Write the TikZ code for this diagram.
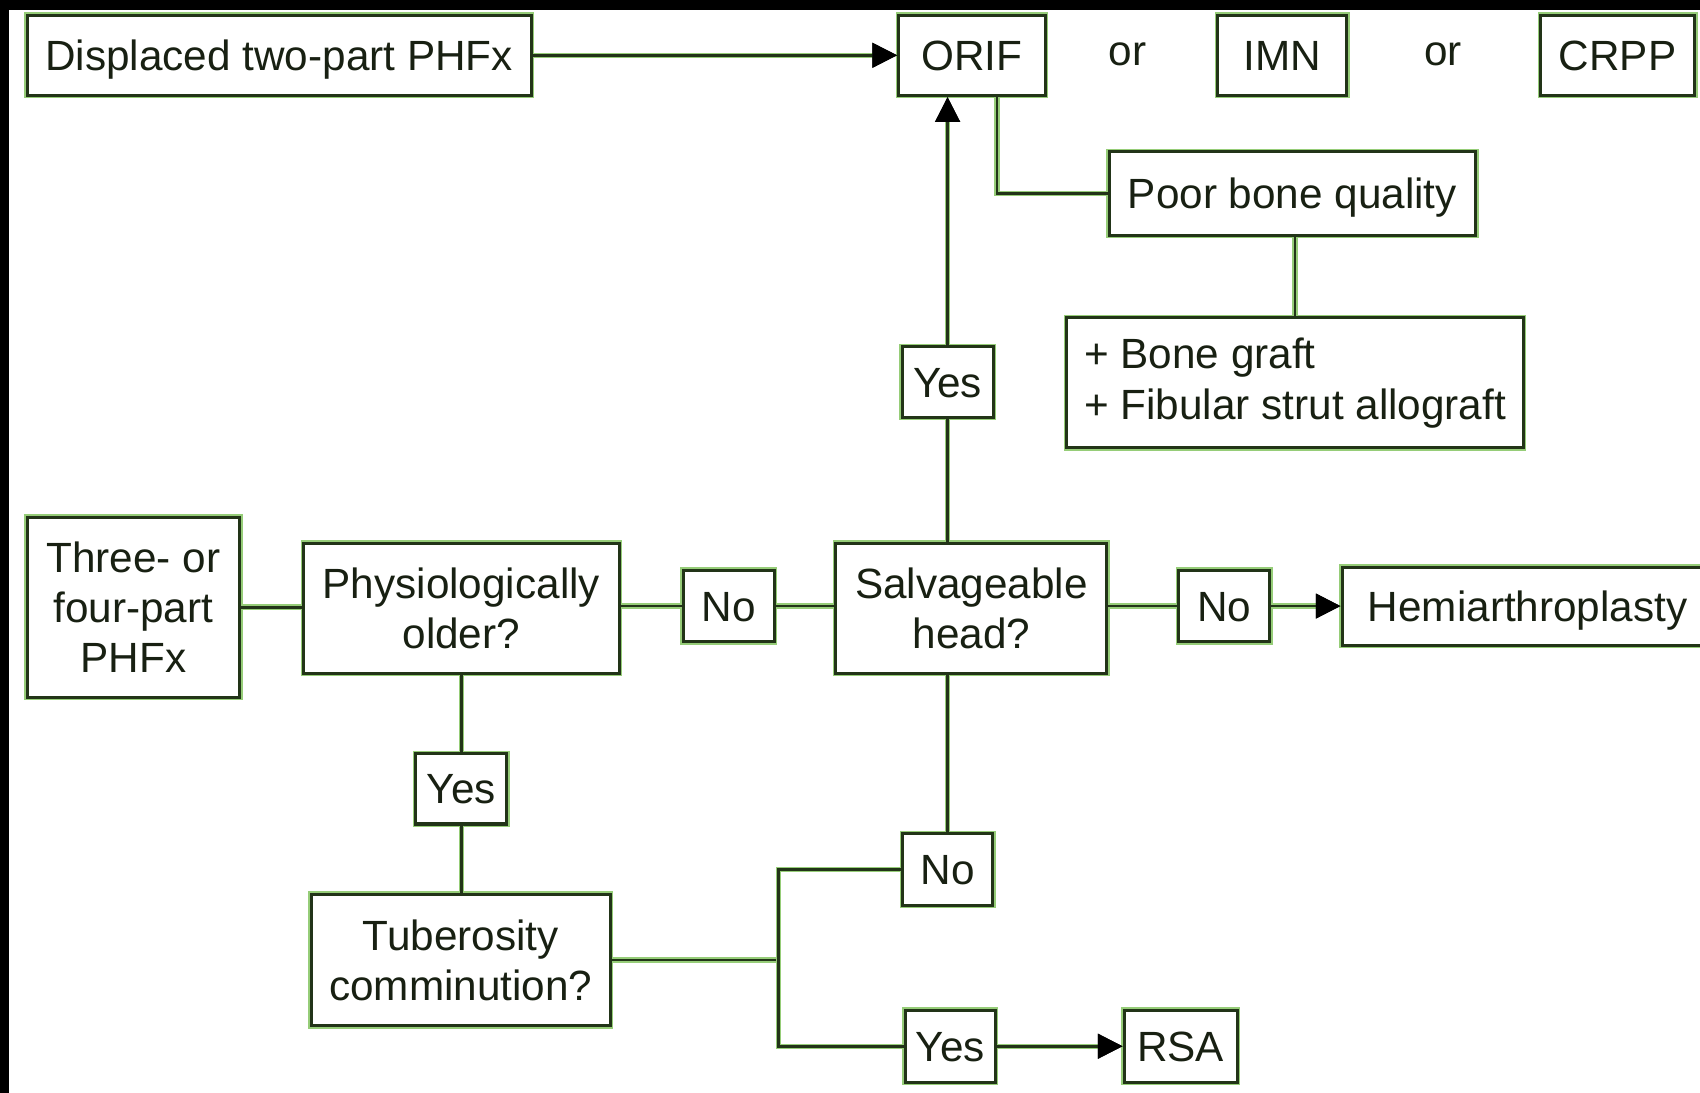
\documentclass[tikz,border=0pt]{standalone}
\usepackage{fontspec}
\setmainfont{Liberation Sans}
\usetikzlibrary{arrows.meta,calc}
\definecolor{lc}{RGB}{34,52,24}
\definecolor{halo}{RGB}{150,205,120}
\definecolor{tc}{RGB}{24,32,18}
\begin{document}
\begin{tikzpicture}[x=1pt,y=-1pt,
  box/.style={draw=lc, line width=2.8pt, preaction={draw=halo, line width=5.5pt},
    fill=white, inner sep=0pt, text=tc, font=\fontsize{39}{46}\selectfont, align=center},
  one/.style={box, text height=28pt, text depth=0pt},
  lbl/.style={inner sep=0pt, text=tc, font=\fontsize{39}{46}\selectfont, text height=20pt, text depth=0pt},
  conn/.style={draw=lc, line width=2.6pt, preaction={draw=halo, line width=5pt}},
  arr/.style={conn, -{Triangle[length=23pt,width=22pt,color=black]}}
]
\useasboundingbox (0,0) rectangle (1568,1008);
\fill[black] (0,0) rectangle (1568,1008);
\fill[white] (8,9) rectangle (1568,1008);

% top row
\node[one, minimum width=465pt, minimum height=74pt] (disp) at (257.5,51) {Displaced two-part PHFx};
\node[one, minimum width=135pt, minimum height=74pt] (orif) at (896.5,51) {ORIF};
\node[lbl] (or1) at (1040,50) {or};
\node[one, minimum width=119pt, minimum height=74pt] (imn) at (1182.5,51) {IMN};
\node[lbl] (or2) at (1331,50) {or};
\node[one, minimum width=142pt, minimum height=74pt] (crpp) at (1492,51) {CRPP};

\node[one, minimum width=338pt, minimum height=77pt] (poor) at (1192,178.5) {Poor bone quality};
\node[box, align=left, minimum width=421pt, minimum height=120pt] (graft) at (1194.5,353)
  {+ Bone graft\\[1pt]+ Fibular strut allograft};
\node[one, minimum width=84pt, minimum height=65pt] (yesU) at (874,352.5) {Yes};

% middle row
\node[box, minimum width=196pt, minimum height=166pt] (three) at (123,560) {Three- or\\four-part\\PHFx};
\node[box, minimum width=291pt, minimum height=120pt] (phys) at (425.5,561) {Physiologically\\older?};
\node[one, minimum width=84pt, minimum height=66pt] (noM) at (672,559) {No};
\node[box, minimum width=250pt, minimum height=120pt] (salv) at (896,561) {Salvageable\\head?};
\node[one, minimum width=84pt, minimum height=66pt] (noR) at (1129,559) {No};
\node[one, minimum width=342pt, minimum height=72pt] (hemi) at (1409,559) {Hemiarthroplasty};

% lower part
\node[one, minimum width=84pt, minimum height=65pt] (yesL) at (425.5,727.5) {Yes};
\node[box, minimum width=276pt, minimum height=121pt] (tub) at (425,885.5) {Tuberosity\\comminution?};
\node[one, minimum width=83pt, minimum height=66pt] (noL) at (874,802) {No};
\node[one, minimum width=83pt, minimum height=66pt] (yesB) at (876.5,965) {Yes};
\node[one, minimum width=104pt, minimum height=66pt] (rsa) at (1089,965) {RSA};
\coordinate (j) at (718,885.5);
\coordinate (ob) at ($(orif.south)+(23,0)$);

% connectors
\draw[arr] (disp.east) -- (orif.west);
\draw[conn] (salv.north -| yesU) -- (yesU.south);
\draw[arr] (yesU.north) -- (yesU.north |- orif.south);
\draw[conn] (ob) |- (poor.west);
\draw[conn] (poor.south -| graft) -- (graft.north);
\draw[conn] (three.east) -- (three.east -| phys.west);
\draw[conn] (noM.west -| phys.east) -- (noM.west);
\draw[conn] (noM.east) -- (noM.east -| salv.west);
\draw[conn] (noR.west -| salv.east) -- (noR.west);
\draw[arr] (noR.east) -- (hemi.west);
\draw[conn] (phys.south -| yesL) -- (yesL.north);
\draw[conn] (yesL.south) -- (yesL.south |- tub.north);
\draw[conn] (salv.south -| noL) -- (noL.north);
\draw[conn] (tub.east) -- (j);
\draw[conn] (noL.west) -| (j) |- (yesB.west);
\draw[arr] (yesB.east) -- (rsa.west);
\end{tikzpicture}
\end{document}
